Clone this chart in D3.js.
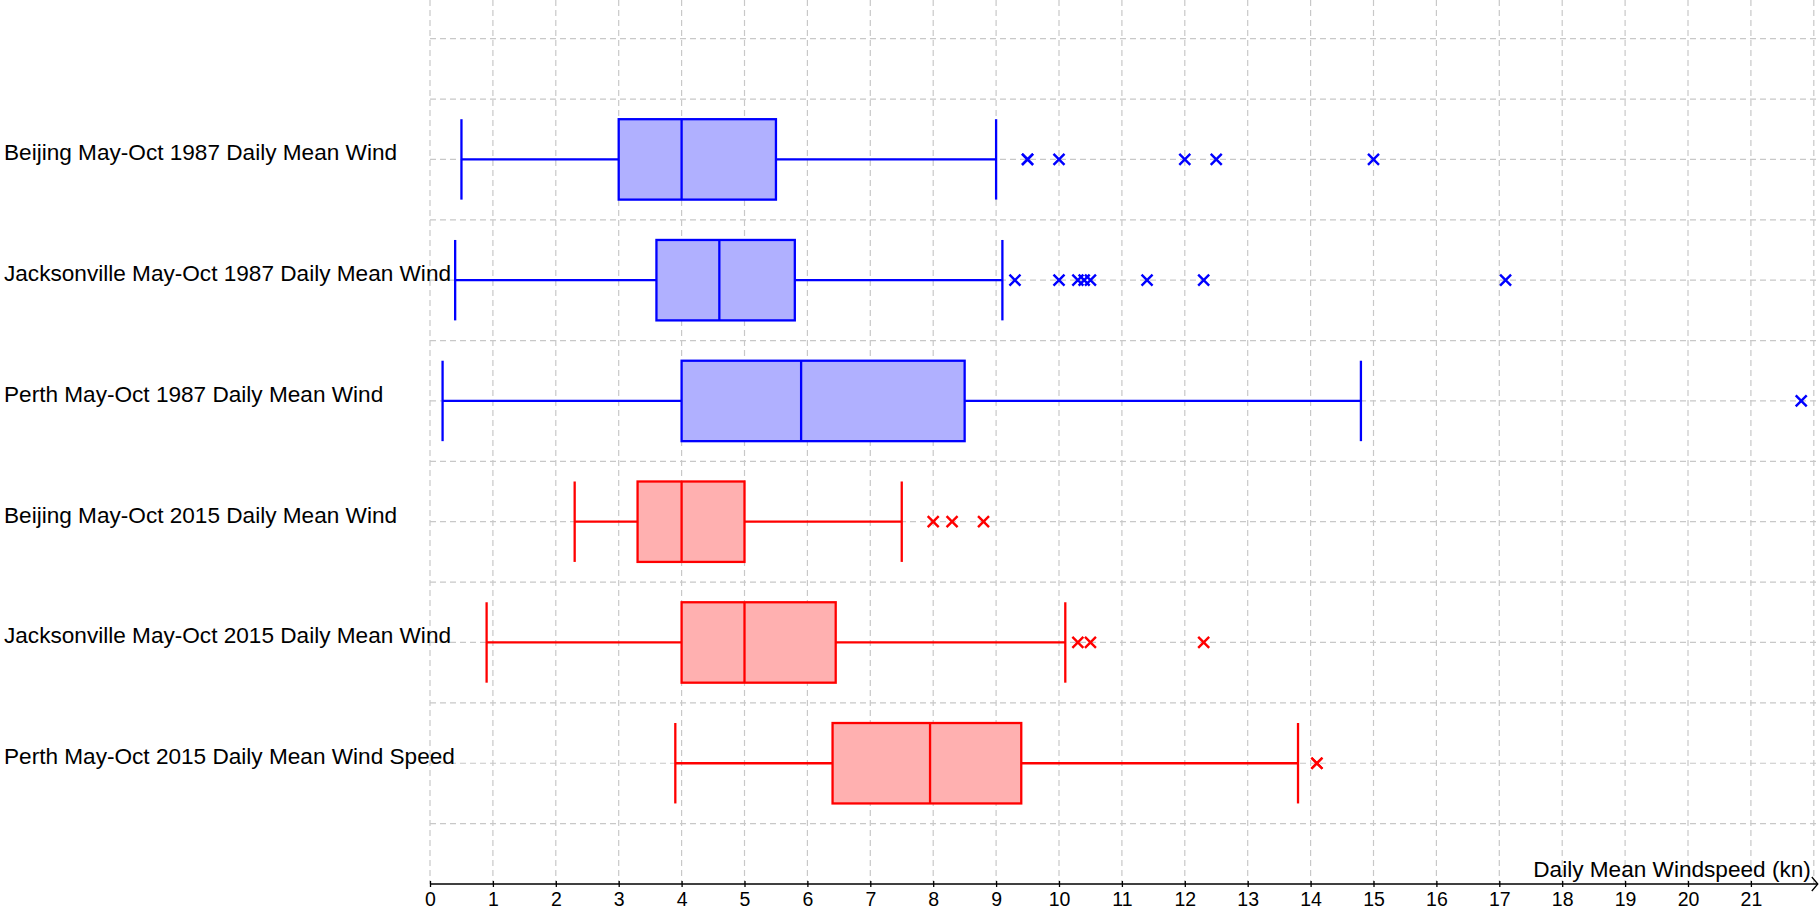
<!DOCTYPE html>
<html>
<head>
<meta charset="utf-8">
<script src="https://cdn.jsdelivr.net/npm/d3@7"></script>
<style>
  body { margin: 0; background: #fff; }
  svg { display: block; font-family: "Liberation Sans", Arial, sans-serif; }
  .grid line { stroke: #c8c8c8; stroke-width: 1.2; stroke-dasharray: 6,4; }
</style>
</head>
<body>
<div id="chart"></div>
<script>
// box plots, top to bottom
const labels = [
  "Beijing May-Oct 1987 Daily Mean Wind",
  "Jacksonville May-Oct 1987 Daily Mean Wind",
  "Perth May-Oct 1987 Daily Mean Wind",
  "Beijing May-Oct 2015 Daily Mean Wind",
  "Jacksonville May-Oct 2015 Daily Mean Wind",
  "Perth May-Oct 2015 Daily Mean Wind Speed"
];
const rowPos = [6, 5, 4, 3, 2, 1];
const whiskerLow = [0.5, 0.4, 0.2, 2.3, 0.9, 3.9];
const q1 = [3, 3.6, 4, 3.3, 4, 6.4];
const median = [4, 4.6, 5.9, 4, 5, 7.95];
const q3 = [5.5, 5.8, 8.5, 5, 6.45, 9.4];
const whiskerHigh = [9, 9.1, 14.8, 7.5, 10.1, 13.8];
const outliers = [
  [9.5, 9.5, 10, 12, 12.5, 15],
  [9.3, 10, 10.3, 10.4, 10.5, 11.4, 12.3, 17.1],
  [21.8],
  [8, 8.3, 8.8],
  [10.3, 10.5, 12.3],
  [14.1, 14.1]
];
const years = ["1987", "1987", "1987", "2015", "2015", "2015"];
const xTicks = d3.range(0, 22);
const xTitle = "Daily Mean Windspeed (kn)";

var width = 1820, height = 913;
var strokeCol = { "1987": "#0000ff", "2015": "#ff0000" };
var fillCol = { "1987": "#b0b0ff", "2015": "#ffb0b0" };

var x = d3.scaleLinear().domain([0, 22]).range([430, 1813.8]);
var y = d3.scaleLinear().domain([0, 7.32]).range([884, 0]);
var half = 0.333; // box half height in row units

var svg = d3.select("#chart").append("svg")
  .attr("width", width)
  .attr("height", height);

// grid
var grid = svg.append("g").attr("class", "grid");
grid.selectAll(".vg")
  .data(d3.range(0, 23))
  .enter().append("line")
  .attr("x1", d => x(d)).attr("x2", d => x(d))
  .attr("y1", y(7.32)).attr("y2", y(0));
grid.selectAll(".hg")
  .data(d3.range(0.5, 7.01, 0.5))
  .enter().append("line")
  .attr("x1", x(0)).attr("x2", width)
  .attr("y1", d => y(d)).attr("y2", d => y(d));

// axis
var xAxis = d3.axisBottom(x)
  .tickValues(xTicks)
  .tickSize(3)
  .tickPadding(5)
  .tickFormat(d3.format("d"));

var ax = svg.append("g")
  .attr("transform", "translate(0," + y(0) + ")")
  .call(xAxis);
ax.select(".domain").remove();
ax.selectAll(".tick line").attr("y1", -3).attr("y2", 3).attr("stroke", "#000").attr("stroke-width", 1.3);
ax.selectAll(".tick text")
  .attr("font-family", "Liberation Sans, Arial, sans-serif")
  .attr("font-size", 19.5)
  .attr("fill", "#000");

var axEnd = x(22) + 4;
svg.append("line")
  .attr("x1", x(0)).attr("x2", axEnd)
  .attr("y1", y(0)).attr("y2", y(0))
  .attr("stroke", "#000").attr("stroke-width", 1.5);
svg.append("path")
  .attr("d", "M" + (axEnd - 6) + "," + (y(0) - 7) + "L" + axEnd + "," + y(0) + "L" + (axEnd - 6) + "," + (y(0) + 7))
  .attr("fill", "none").attr("stroke", "#000").attr("stroke-width", 1.3);

svg.append("text")
  .attr("x", x(22) - 3)
  .attr("y", y(0) - 7)
  .attr("text-anchor", "end")
  .attr("font-size", 22.6)
  .text(xTitle);

// category labels
svg.selectAll(".lab")
  .data(labels)
  .enter().append("text")
  .attr("x", 4)
  .attr("y", (d, i) => y(rowPos[i]) + 1)
  .attr("font-size", 22.6)
  .attr("fill", "#000")
  .text(d => d);

// boxes
var rows = svg.selectAll(".row")
  .data(labels.map((l, i) => i))
  .enter().append("g")
  .attr("class", "row");

rows.each(function (i) {
  var g = d3.select(this);
  var c = strokeCol[years[i]];
  var yc = y(rowPos[i]), yt = y(rowPos[i] + half), yb = y(rowPos[i] - half);

  g.append("line")
    .attr("x1", x(whiskerLow[i])).attr("x2", x(q1[i]))
    .attr("y1", yc).attr("y2", yc);
  g.append("line")
    .attr("x1", x(q3[i])).attr("x2", x(whiskerHigh[i]))
    .attr("y1", yc).attr("y2", yc);
  g.append("line")
    .attr("x1", x(whiskerLow[i])).attr("x2", x(whiskerLow[i]))
    .attr("y1", yt).attr("y2", yb);
  g.append("line")
    .attr("x1", x(whiskerHigh[i])).attr("x2", x(whiskerHigh[i]))
    .attr("y1", yt).attr("y2", yb);
  g.append("rect")
    .attr("x", x(q1[i])).attr("y", yt)
    .attr("width", x(q3[i]) - x(q1[i]))
    .attr("height", yb - yt)
    .attr("fill", fillCol[years[i]]);
  g.append("line")
    .attr("x1", x(median[i])).attr("x2", x(median[i]))
    .attr("y1", yt).attr("y2", yb);
  g.selectAll("line, rect")
    .attr("stroke", c)
    .attr("stroke-width", 2.3);

  g.selectAll(".out")
    .data(outliers[i])
    .enter().append("path")
    .attr("class", "out")
    .attr("d", function (v) {
      var cx = x(v), s = 5.5;
      return "M" + (cx - s) + "," + (yc - s) + "L" + (cx + s) + "," + (yc + s) +
        "M" + (cx - s) + "," + (yc + s) + "L" + (cx + s) + "," + (yc - s);
    })
    .attr("fill", "none")
    .attr("stroke", c)
    .attr("stroke-width", 2.4);
});
</script>
</body>
</html>
